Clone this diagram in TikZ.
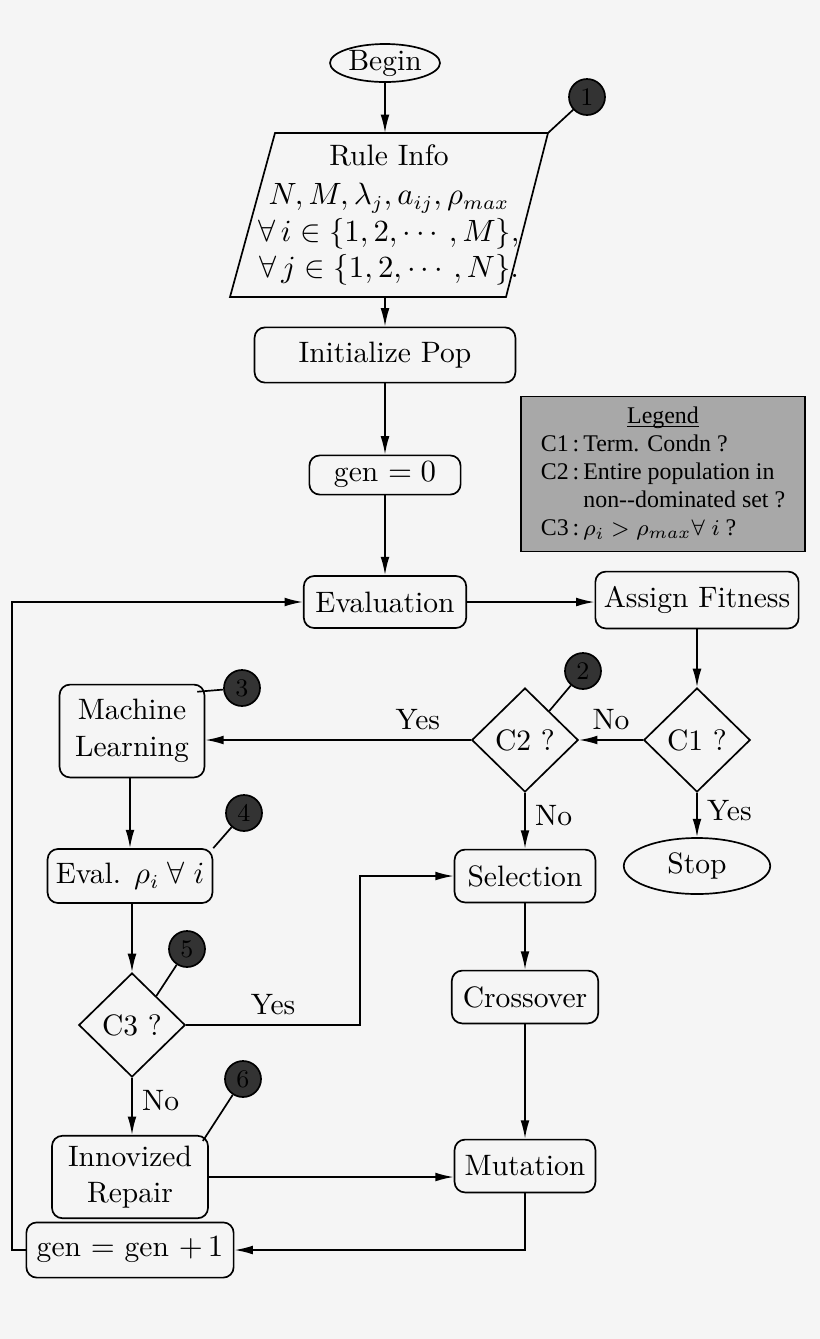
\documentclass[tikz,border=0pt]{standalone}
\usepackage{amsmath,amssymb}
\usepackage{fontspec}
\newfontfamily\legendfont{Liberation Serif}
\usetikzlibrary{calc,arrows.meta,shapes.geometric,positioning}
\definecolor{bg}{HTML}{F5F5F5}
\definecolor{legendgrey}{HTML}{A8A8A8}

\begin{document}
\begin{tikzpicture}[x=0.0125cm,y=-0.0125cm,font=\fontsize{10.5}{13}\selectfont,>={Latex[length=2.3mm,width=1.1mm]},semithick]

\tikzset{box/.style={draw,rounded corners=1.3mm,align=center,inner sep=1pt},
term/.style={draw,ellipse,inner sep=0pt},
decision/.style={draw,diamond,inner sep=0pt,minimum width=13.3mm,minimum height=13mm},
marker/.style={circle,fill=black!80,draw=black,minimum size=4.5mm,inner sep=0pt,font=\small},
link/.style={->}}

\fill[bg] (0,0) rectangle (820,1339);
\useasboundingbox (0,0) rectangle (820,1339);

% start and input
\node[term,minimum width=13.75mm,minimum height=4.75mm] (begin) at (385,63) {Begin};
\coordinate (ri-nw) at (275,133); \coordinate (ri-ne) at (548,133);
\coordinate (ri-se) at (506,297); \coordinate (ri-sw) at (230,297);
\draw (ri-nw) -- (ri-ne) -- (ri-se) -- (ri-sw) -- cycle;
\node[align=center,inner sep=0pt] (ruleinfo) at (389,215) {Rule Info\\[1pt]$N, M, \lambda_j, a_{ij}, \rho_{max}$\\$\forall\, i \in \{1,2,\cdots,M\}$,\\$\forall\, j \in \{1,2,\cdots,N\}$.};
\coordinate (ri-top) at (385,133); \coordinate (ri-bot) at (385,297);

% main column
\node[box,minimum width=32.6mm,minimum height=6.9mm] (init) at (385,355) {Initialize Pop};
\node[box,minimum width=18.9mm,minimum height=4.9mm] (gen0) at (385,475) {gen $=0$};
\node[box,minimum width=20.3mm,minimum height=6.5mm] (eval) at (385,602) {Evaluation};
\node[box,minimum width=25.4mm,minimum height=7.1mm] (fitness) at (697,600) {Assign Fitness};
\node[decision] (c1) at (697,740) {C1 ?};
\node[decision] (c2) at (525,740) {C2 ?};
\node[term,minimum width=18.3mm,minimum height=7mm] (stop) at (697,866) {Stop};
\node[box,minimum width=17.6mm,minimum height=6.6mm] (select) at (525,876) {Selection};
\node[box,minimum width=18.3mm,minimum height=6.6mm] (cross) at (525,997) {Crossover};
\node[box,minimum width=17.6mm,minimum height=6.6mm] (mutate) at (525,1166) {Mutation};

% learning column
\node[box,minimum width=18.1mm,minimum height=11.6mm] (learn) at (132,731) {Machine\\Learning};
\node[box,minimum width=20.6mm,minimum height=6.75mm] (evalrho) at (130,876) {Eval. $\rho_i\;\forall\; i$};
\node[decision] (c3) at (132,1025) {C3 ?};
\node[box,minimum width=19.5mm,minimum height=10.3mm] (repair) at (130,1177) {Innovized\\Repair};
\node[box,minimum width=25.9mm,minimum height=6.9mm] (genup) at (130,1250) {gen $=$ gen $+\,1$};

% legend
\node[draw,fill=legendgrey,minimum width=35.5mm,minimum height=19.4mm,font=\legendfont\fontsize{8.5}{10}\selectfont,inner sep=2pt] (legend) at (663,474) {%
\begin{tabular}{@{}l@{\,:\,}l@{}}
\multicolumn{2}{c}{\underline{\smash{Legend}}}\\
C1 & Term. Condn ?\\
C2 & Entire population in\\
\multicolumn{2}{@{}l@{}}{\hphantom{C2\,:\,}non--dominated set ?}\\
C3 & $\rho_i > \rho_{max}\forall\; i$ ?
\end{tabular}};

% markers
\node[marker] (m1) at (587,97) {1};
\node[marker] (m2) at (583,671) {2};
\node[marker] (m3) at (242,688) {3};
\node[marker] (m4) at (244,813) {4};
\node[marker] (m5) at (187,949) {5};
\node[marker] (m6) at (243,1079) {6};
\draw (m1) -- (ri-ne);
\draw (m2) -- ($(c2.north)!0.45!(c2.east)$);
\draw (m3) -- ($(learn.north east)+(-8,8)$);
\draw (m4) -- (evalrho.north east);
\draw (m5) -- ($(c3.north)!0.45!(c3.east)$);
\draw (m6) -- ($(repair.north east)+(-6,6)$);

% Edges
\draw[link] (begin) -- (ri-top);
\draw[link] (ri-bot) -- (init);
\draw[link] (init) -- (gen0);
\draw[link] (gen0) -- (eval);
\draw[link] (eval) -- (fitness.west |- eval);
\draw[link] (fitness.south -| c1) -- (c1);
\draw[link] (c1) -- node[above,pos=0.5] {No} (c2);
\draw[link] (c2) -- node[above,pos=0.2] {Yes} (learn.east |- c2);
\draw[link] (c1) -- node[right,pos=0.4] {Yes} (stop);
\draw[link] (c2) -- node[right,pos=0.4] {No} (select);
\draw[link] (learn.south -| evalrho) -- (evalrho.north);
\draw[link] (evalrho.south -| c3) -- (c3);
\coordinate (yesturn) at (360,1025);
\draw[link] (c3) -- node[above,pos=0.5] {Yes} (yesturn) |- (select.west);
\draw[link] (c3) -- node[right,pos=0.4] {No} (repair.north -| c3);
\draw[link] (select) -- (cross);
\draw[link] (cross) -- (mutate);
\draw[link] (repair) -- (mutate.west |- repair);
\coordinate (loopdown) at (525,1250);
\draw[link] (mutate) -- (loopdown) -- (genup);
\coordinate (loopleft) at (12,1250);
\draw[link] (genup) -- (loopleft) |- (eval);

\end{tikzpicture}
\end{document}
